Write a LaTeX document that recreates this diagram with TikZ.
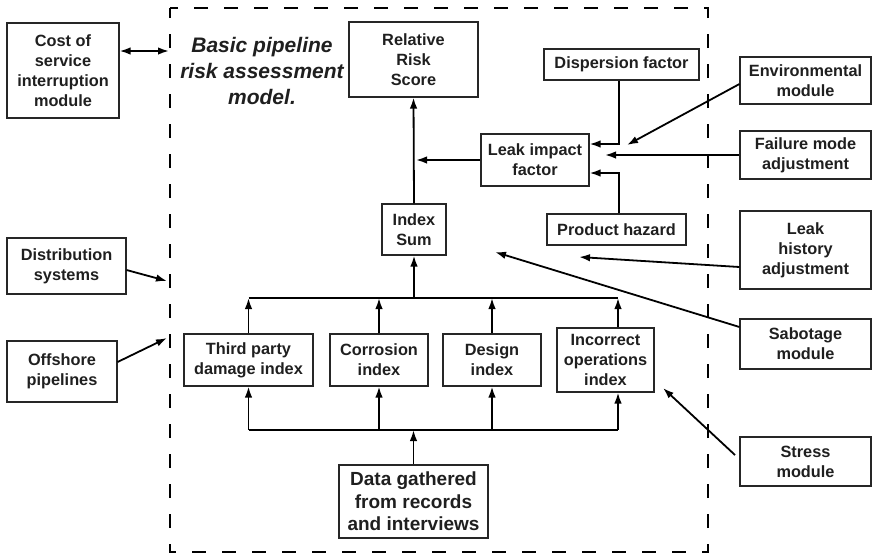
\documentclass[tikz,border=0pt]{standalone}
\usepackage{fontspec}
\setmainfont{Liberation Sans}
\usetikzlibrary{arrows.meta}
\begin{document}
\begin{tikzpicture}[x=1pt,y=-1pt,
  box/.style={draw=black!85,line width=1.1pt,inner sep=0pt,align=center,text=black!88,
    font=\bfseries\fontsize{16.3}{20}\selectfont},
  arr/.style={line width=1.8pt,-{Latex[length=11pt,width=7.5pt]}},
  dbl/.style={line width=1.8pt,{Latex[length=11pt,width=7.5pt]}-{Latex[length=11pt,width=7.5pt]}},
  ln/.style={line width=1.8pt}]
\useasboundingbox (0,0) rectangle (874,555);
% frame
\draw[line width=2.4pt,dash pattern=on 14pt off 16pt,dash phase=4pt] (170,8) rectangle (708,552);
% title
\node[align=center,text=black!88,font=\bfseries\itshape\fontsize{21}{26}\selectfont] (title) at (262,71) {Basic pipeline\\risk assessment\\model.};
% left boxes
\node[box,minimum width=112pt,minimum height=95pt] (cost) at (63,70.5) {Cost of\\service\\interruption\\module};
\node[box,minimum width=119pt,minimum height=56pt] (dist) at (66.5,266) {Distribution\\systems};
\node[box,minimum width=110pt,minimum height=61pt] (off) at (62,371.5) {Offshore\\pipelines};
% inner boxes
\node[box,minimum width=129pt,minimum height=75pt] (rrs) at (413.5,59.5) {Relative\\Risk\\Score};
\node[box,minimum width=64pt,minimum height=51pt] (isum) at (414,229.5) {Index\\Sum};
\node[box,minimum width=155pt,minimum height=31pt] (disp) at (621.5,64.5) {Dispersion factor};
\node[box,minimum width=108pt,minimum height=52pt] (leak) at (535,160) {Leak impact\\factor};
\node[box,minimum width=139pt,minimum height=31pt] (prod) at (616.5,229.5) {Product hazard};
\node[box,minimum width=129pt,minimum height=52pt] (tp) at (248.5,360) {Third party\\damage index};
\node[box,minimum width=98pt,minimum height=52pt] (corr) at (379,360) {Corrosion\\index};
\node[box,minimum width=98pt,minimum height=52pt] (des) at (492,360) {Design\\index};
\node[box,minimum width=97pt,minimum height=64pt] (inc) at (605.5,360) {Incorrect\\operations\\index};
\node[box,minimum width=149pt,minimum height=73pt,font=\bfseries\fontsize{19}{22.5}\selectfont] (data) at (413.5,501.5) {Data gathered\\from records\\and interviews};
% right boxes
\node[box,minimum width=131pt,minimum height=47pt] (env) at (805.5,80.5) {Environmental\\module};
\node[box,minimum width=131pt,minimum height=48pt] (fail) at (805.5,155) {Failure mode\\adjustment};
\node[box,minimum width=131pt,minimum height=78pt] (lhist) at (805.5,250) {Leak\\history\\adjustment};
\node[box,minimum width=131pt,minimum height=50pt] (sab) at (805.5,344) {Sabotage\\module};
\node[box,minimum width=131pt,minimum height=49pt] (stress) at (805.5,461.5) {Stress\\module};
% coordinates
\coordinate (c1) at (169,51);
\coordinate (envt) at (627,145);
\coordinate (failt) at (605,155);
\coordinate (lht) at (579,257);
\coordinate (sabt) at (495,252);
\coordinate (strs) at (735,455);
\coordinate (strt) at (663,388);
\coordinate (distt) at (167,281);
\coordinate (offt) at (167,338);
\coordinate (bt) at (0,298);
\coordinate (bb) at (0,430);
\coordinate (incx) at (618,0);
% connectors
\draw[dbl] (cost.east |- c1) -- (c1);
\draw[arr] (isum.north) -- (rrs.south);
\draw[arr] (leak.west) -- ([xshift=2pt]isum.north |- leak.west);
\draw[arr] ([xshift=-2.5pt]disp.south) |- ([yshift=16pt]leak.east);
\draw[arr] ([xshift=2.5pt]prod.north) |- ([yshift=-13pt]leak.east);
\draw[arr] ([yshift=-3.5pt]env.west) -- (envt);
\draw[arr] (fail.west) -- (failt);
\draw[arr] ([yshift=-17pt]lhist.west) -- (lht);
\draw[arr] ([yshift=17pt]sab.west) -- (sabt);
\draw[arr] (strs) -- (strt);
\draw[arr] ([yshift=-4pt]dist.east) -- (distt);
\draw[arr] ([yshift=9.5pt]off.east) -- (offt);
% top bus
\draw[ln] (tp.north |- bt) -- (incx |- bt);
\draw[arr] (tp.north) -- (tp.north |- bt);
\draw[arr] (corr.north) -- (corr.north |- bt);
\draw[arr] (des.north) -- (des.north |- bt);
\draw[arr] (inc.north -| incx) -- (incx |- bt);
\draw[arr] (isum.south |- bt) -- (isum.south);
% bottom bus
\draw[ln] (tp.south |- bb) -- (incx |- bb);
\draw[arr] (tp.south |- bb) -- (tp.south);
\draw[arr] (corr.south |- bb) -- (corr.south);
\draw[arr] (des.south |- bb) -- (des.south);
\draw[arr] (incx |- bb) -- (inc.south -| incx);
\draw[arr] (data.north) -- (data.north |- bb);
\end{tikzpicture}
\end{document}
